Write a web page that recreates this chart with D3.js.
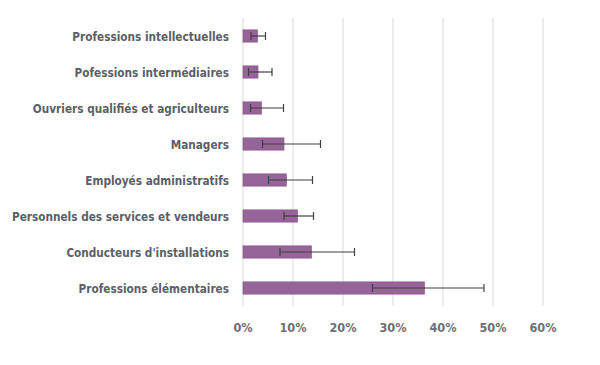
<!DOCTYPE html>
<html>
<head>
<meta charset="utf-8">
<script src="https://cdn.jsdelivr.net/npm/d3@7"></script>
<style>
  body { margin: 0; background: #fff; }
  text { font-family: "DejaVu Sans", sans-serif; font-weight: bold; fill: #5b5f68; }
  .cat { font-family: "DejaVu Sans Condensed", "DejaVu Sans", sans-serif; }
</style>
</head>
<body>
<svg width="600" height="365"></svg>
<script>
// categories, top to bottom
const categories = [
    "Professions intellectuelles",
    "Pofessions intermédiaires",
    "Ouvriers qualifiés et agriculteurs",
    "Managers",
    "Employés administratifs",
    "Personnels des services et vendeurs",
    "Conducteurs d'installations",
    "Professions élémentaires"
];
// share (%) and error bar bounds (%)
const values = [2.9, 3.0, 3.7, 8.2, 8.7, 10.9, 13.7, 36.3];
const lower  = [1.6, 1.1, 1.5, 3.9, 5.1, 8.2, 7.4, 25.9];
const upper  = [4.5, 5.8, 8.1, 15.5, 13.9, 14.1, 22.3, 48.2];
const ticks  = [0, 10, 20, 30, 40, 50, 60];

const data = categories.map((c, i) => ({ name: c, v: values[i], lo: lower[i], hi: upper[i] }));

const svg = d3.select("svg");

const x = d3.scaleLinear().domain([0, 60]).range([243, 543]);
const y = d3.scaleBand().domain(categories).range([18, 306]).paddingInner(0.66).paddingOuter(0.33);

// gridlines
svg.append("g")
    .selectAll("line")
    .data(ticks)
    .enter().append("line")
    .attr("x1", d => x(d)).attr("x2", d => x(d))
    .attr("y1", 18).attr("y2", 306)
    .attr("stroke", "#d9d9d9")
    .attr("stroke-width", 1);

// tick labels (narrowed to mimic the condensed font)
svg.append("g")
    .selectAll("text")
    .data(ticks)
    .enter().append("text")
    .attr("transform", d => `translate(${x(d)},332) scale(0.87,1)`)
    .attr("text-anchor", "middle")
    .style("font-size", "13px")
    .style("fill", "#6b6f78")
    .text(d => d + "%");

// bars
svg.append("g")
    .selectAll("rect")
    .data(data)
    .enter().append("rect")
    .attr("x", x(0))
    .attr("y", d => y(d.name))
    .attr("width", d => x(d.v) - x(0))
    .attr("height", y.bandwidth())
    .attr("fill", "#97649a")
    .attr("stroke", "#8a5a8d")
    .attr("stroke-width", 0.7);

// error bars
const err = svg.append("g")
    .selectAll("g")
    .data(data)
    .enter().append("g")
    .attr("transform", d => `translate(0,${y(d.name) + y.bandwidth() / 2})`);

err.append("line")
    .attr("x1", d => x(d.lo)).attr("x2", d => x(d.hi))
    .attr("stroke", "#404040").attr("stroke-width", 1.2);
err.append("line")
    .attr("x1", d => x(d.lo)).attr("x2", d => x(d.lo))
    .attr("y1", -4).attr("y2", 4)
    .attr("stroke", "#404040").attr("stroke-width", 1.2);
err.append("line")
    .attr("x1", d => x(d.hi)).attr("x2", d => x(d.hi))
    .attr("y1", -4).attr("y2", 4)
    .attr("stroke", "#404040").attr("stroke-width", 1.2);

// category labels
svg.append("g")
    .selectAll("text")
    .data(data)
    .enter().append("text")
    .attr("class", "cat")
    .attr("transform", d => `translate(229,${y(d.name) + y.bandwidth() / 2}) scale(0.9,1)`)
    .attr("dy", "0.35em")
    .attr("text-anchor", "end")
    .style("font-size", "13px")
    .text(d => d.name);
</script>
</body>
</html>
